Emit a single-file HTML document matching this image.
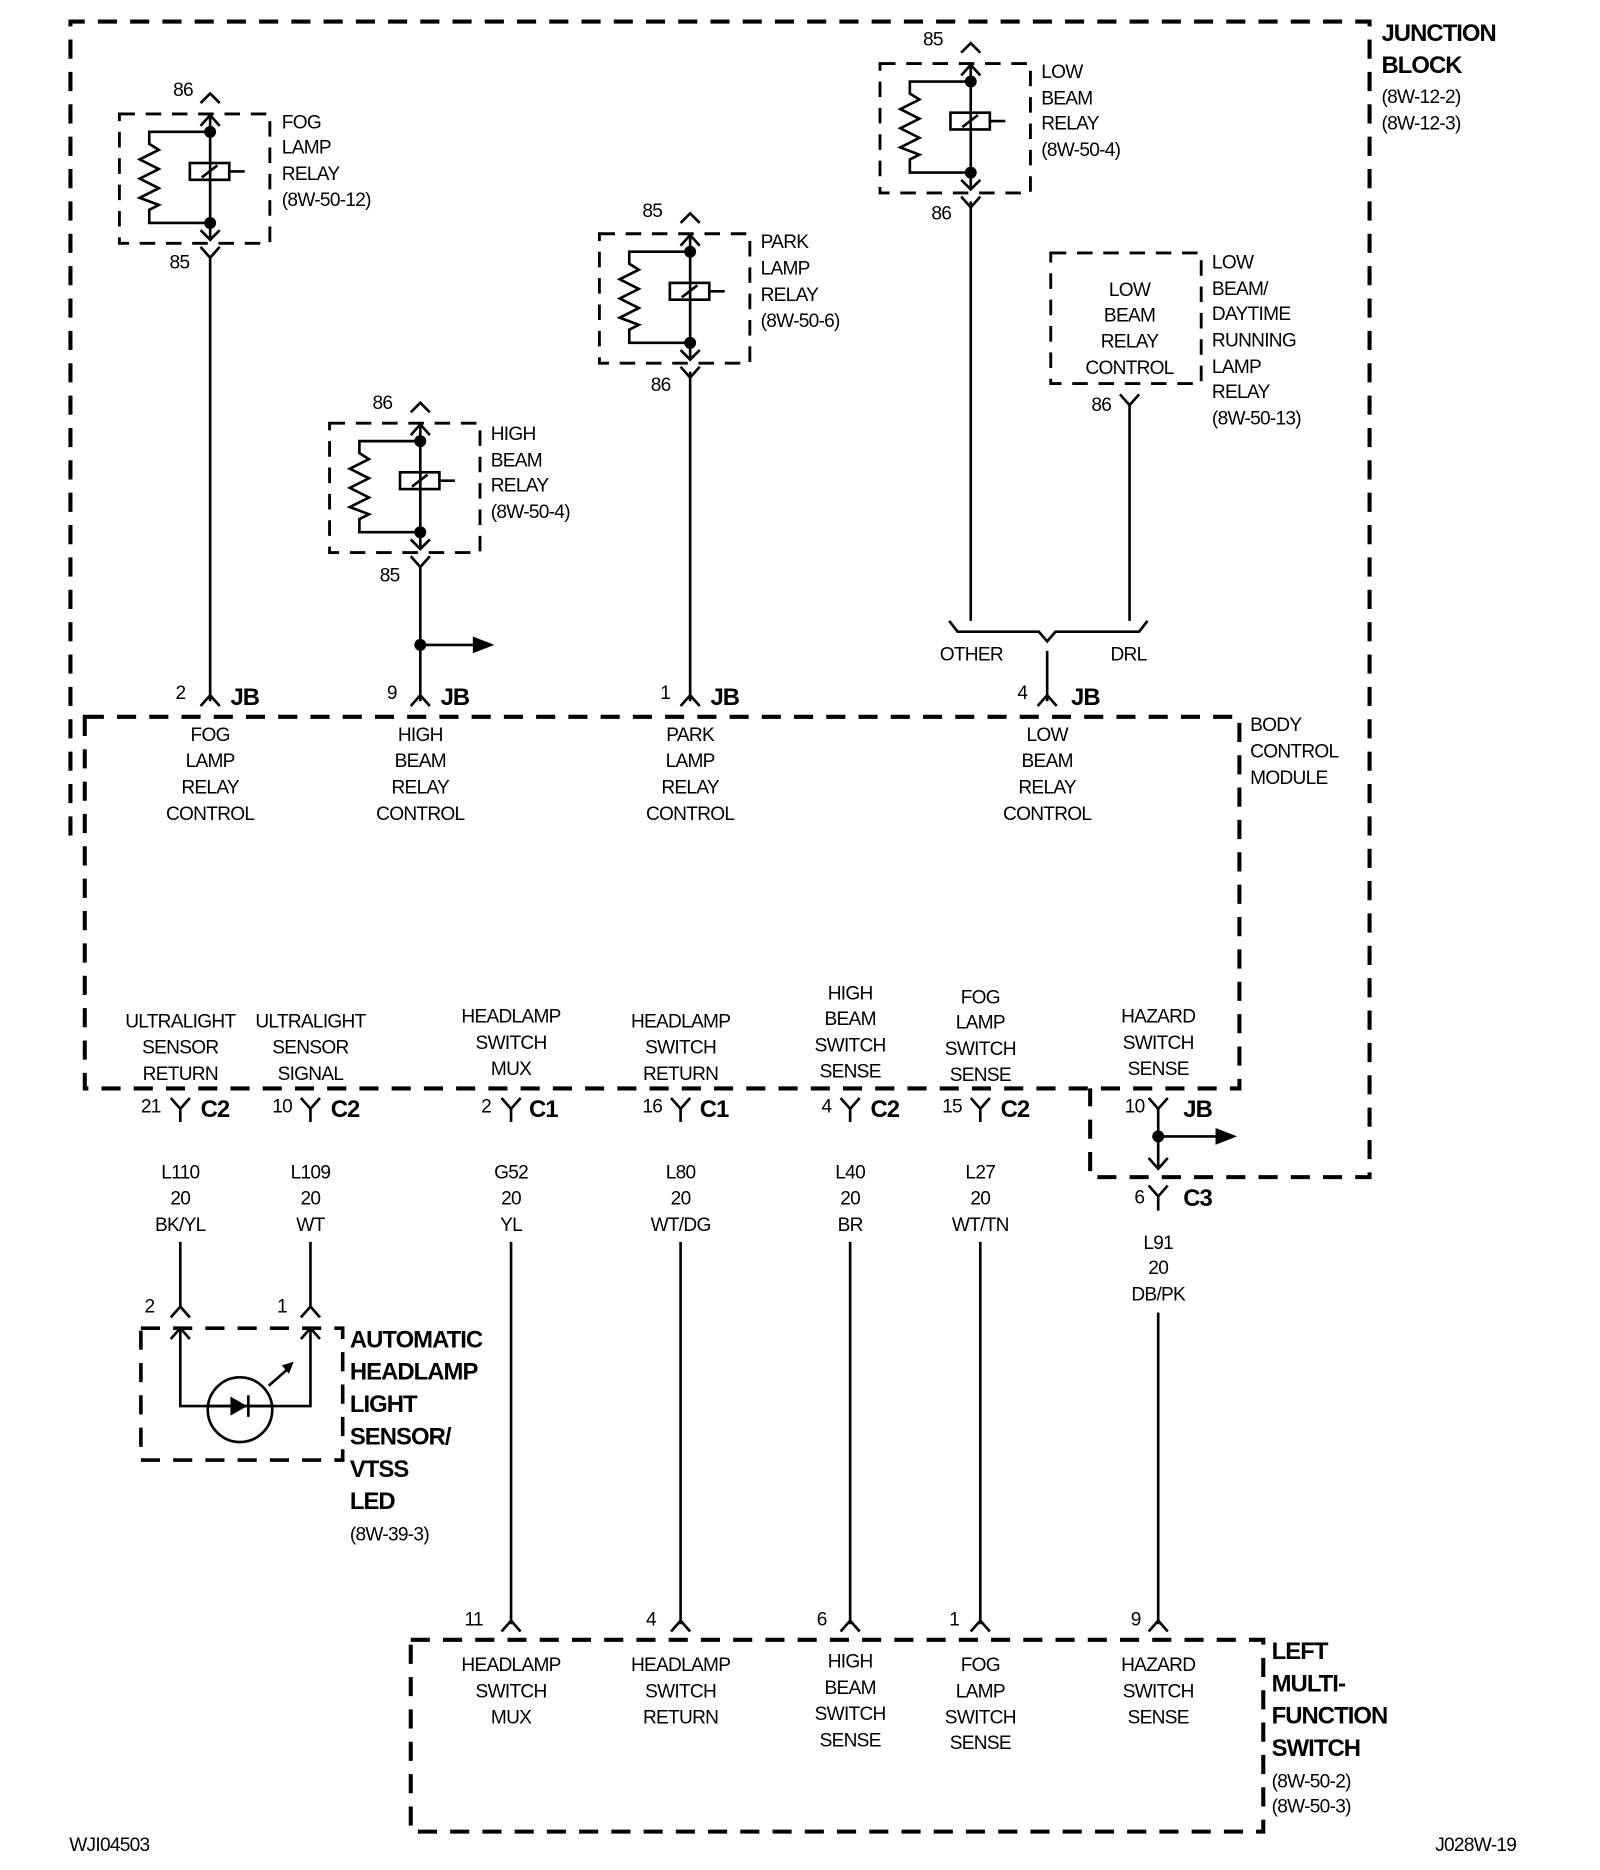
<!DOCTYPE html>
<html><head><meta charset="utf-8"><style>
html,body{margin:0;padding:0;background:#fff;}
svg{display:block;}
text{font-family:"Liberation Sans",Arial,sans-serif;font-size:16px;fill:#000;letter-spacing:-0.6px;}
.b{font-weight:bold;font-size:20px;letter-spacing:-0.8px;}
.m{text-anchor:middle;}
.d{fill:none;stroke:#000;stroke-width:3.4;stroke-dasharray:16 11;}
.w{fill:none;stroke:#000;stroke-width:2.2;}
</style></head><body>
<svg width="1600" height="1870" viewBox="0 0 1340 1560" preserveAspectRatio="none" xmlns="http://www.w3.org/2000/svg">
<defs>
<g id="relay">
<rect x="-76" y="0" width="126" height="108" class="d" style="stroke-width:2.4;stroke-dasharray:13 9"/>
<path class="w" d="M-8,-9 L0,-17 L8,-9 M-8,10 L0,1 L8,10 M0,1 V105 M-8,97 L0,105 L8,97 M-8,111 L0,120 L8,111"/>
<circle cx="0" cy="15" r="5"/><circle cx="0" cy="91" r="5"/>
<rect x="-17" y="41" width="33" height="14" class="w"/>
<path class="w" d="M-7,53 L6,43 M16,48 H29 M0,15 H-51 V25 L-43,30 L-59,38 L-43,46 L-59,54 L-43,62 L-59,70 L-43,76 L-51,80 V91 H0"/>
</g>
<path id="fork" class="w" d="M-8,-9 L0,0 L8,-9"/>
<path id="chev" class="w" d="M-8,9 L0,0 L8,9"/>
</defs>

<!-- Junction block border -->
<path class="d" d="M59,697 V18 H1147 V982 H913 V908"/>
<!-- BCM -->
<path class="d" d="M71,598 H1038 V908 H71 Z"/>
<!-- LMFS -->
<path class="d" d="M344,1368 H1058 V1528 H344 Z"/>

<!-- relays -->
<use href="#relay" x="176" y="95"/>
<use href="#relay" x="352" y="353"/>
<use href="#relay" x="578" y="195"/>
<use href="#relay" x="813" y="53"/>

<!-- DRL relay box -->
<rect x="880" y="211" width="126" height="109" class="d" style="stroke-width:2.4;stroke-dasharray:13 9"/>
<text class="m" x="946" y="247">LOW</text><text class="m" x="946" y="268">BEAM</text><text class="m" x="946" y="290">RELAY</text><text class="m" x="946" y="312">CONTROL</text>
<use href="#fork" x="946" y="338"/>
<text x="914" y="343">86</text>

<!-- upper wires -->
<path class="w" d="M176,215 V585 M352,473 V585 M578,310 V585 M813,168 V518 M946,338 V518"/>
<path class="w" d="M795,518 L802,527 H870 L877,535 L884,527 H954 L961,518 M877,543 V585"/>
<circle cx="352" cy="538" r="5"/>
<path class="w" d="M352,538 H396"/><path d="M396,531 L414,538 L396,545 Z"/>

<!-- JB connectors top of BCM -->
<use href="#chev" x="176" y="580"/><use href="#chev" x="352" y="580"/><use href="#chev" x="578" y="580"/><use href="#chev" x="877" y="580"/>
<text x="147" y="583">2</text><text class="b" x="193" y="588">JB</text>
<text x="324" y="583">9</text><text class="b" x="369" y="588">JB</text>
<text x="553" y="583">1</text><text class="b" x="595" y="588">JB</text>
<text x="852" y="583">4</text><text class="b" x="897" y="588">JB</text>
<text x="787" y="551">OTHER</text><text x="930" y="551">DRL</text>

<!-- relay labels -->
<text x="145" y="80">86</text><text x="142" y="224">85</text>
<text x="236" y="107">FOG</text><text x="236" y="128">LAMP</text><text x="236" y="150">RELAY</text><text x="236" y="172">(8W-50-12)</text>
<text x="312" y="341">86</text><text x="318" y="485">85</text>
<text x="411" y="367">HIGH</text><text x="411" y="389">BEAM</text><text x="411" y="410">RELAY</text><text x="411" y="432">(8W-50-4)</text>
<text x="538" y="181">85</text><text x="545" y="326">86</text>
<text x="637" y="207">PARK</text><text x="637" y="229">LAMP</text><text x="637" y="251">RELAY</text><text x="637" y="273">(8W-50-6)</text>
<text x="773" y="38">85</text><text x="780" y="183">86</text>
<text x="872" y="65">LOW</text><text x="872" y="87">BEAM</text><text x="872" y="108">RELAY</text><text x="872" y="130">(8W-50-4)</text>
<text x="1015" y="224">LOW</text><text x="1015" y="246">BEAM/</text><text x="1015" y="267">DAYTIME</text><text x="1015" y="289">RUNNING</text><text x="1015" y="311">LAMP</text><text x="1015" y="332">RELAY</text><text x="1015" y="354">(8W-50-13)</text>
<text class="b" x="1157" y="34">JUNCTION</text><text class="b" x="1157" y="61">BLOCK</text>
<text x="1157" y="86">(8W-12-2)</text><text x="1157" y="108">(8W-12-3)</text>
<text x="1047" y="610">BODY</text><text x="1047" y="632">CONTROL</text><text x="1047" y="654">MODULE</text>

<!-- BCM top labels -->
<text class="m" x="176" y="618">FOG</text><text class="m" x="176" y="640">LAMP</text><text class="m" x="176" y="662">RELAY</text><text class="m" x="176" y="684">CONTROL</text>
<text class="m" x="352" y="618">HIGH</text><text class="m" x="352" y="640">BEAM</text><text class="m" x="352" y="662">RELAY</text><text class="m" x="352" y="684">CONTROL</text>
<text class="m" x="578" y="618">PARK</text><text class="m" x="578" y="640">LAMP</text><text class="m" x="578" y="662">RELAY</text><text class="m" x="578" y="684">CONTROL</text>
<text class="m" x="877" y="618">LOW</text><text class="m" x="877" y="640">BEAM</text><text class="m" x="877" y="662">RELAY</text><text class="m" x="877" y="684">CONTROL</text>

<!-- BCM bottom labels -->
<text class="m" x="151" y="857">ULTRALIGHT</text><text class="m" x="151" y="879">SENSOR</text><text class="m" x="151" y="901">RETURN</text>
<text class="m" x="260" y="857">ULTRALIGHT</text><text class="m" x="260" y="879">SENSOR</text><text class="m" x="260" y="901">SIGNAL</text>
<text class="m" x="428" y="853">HEADLAMP</text><text class="m" x="428" y="875">SWITCH</text><text class="m" x="428" y="897">MUX</text>
<text class="m" x="570" y="857">HEADLAMP</text><text class="m" x="570" y="879">SWITCH</text><text class="m" x="570" y="901">RETURN</text>
<text class="m" x="712" y="834">HIGH</text><text class="m" x="712" y="855">BEAM</text><text class="m" x="712" y="877">SWITCH</text><text class="m" x="712" y="899">SENSE</text>
<text class="m" x="821" y="837">FOG</text><text class="m" x="821" y="858">LAMP</text><text class="m" x="821" y="880">SWITCH</text><text class="m" x="821" y="902">SENSE</text>
<text class="m" x="970" y="853">HAZARD</text><text class="m" x="970" y="875">SWITCH</text><text class="m" x="970" y="897">SENSE</text>

<!-- bottom BCM connectors -->
<use href="#fork" x="151" y="925"/><use href="#fork" x="260" y="925"/><use href="#fork" x="428" y="925"/><use href="#fork" x="570" y="925"/><use href="#fork" x="712" y="925"/><use href="#fork" x="821" y="925"/><use href="#fork" x="970" y="925"/>
<path class="w" d="M151,925 V936 M260,925 V936 M428,925 V936 M570,925 V936 M712,925 V936 M821,925 V936 M970,925 V975"/>
<text x="118" y="928">21</text><text class="b" x="168" y="932">C2</text>
<text x="228" y="928">10</text><text class="b" x="277" y="932">C2</text>
<text x="403" y="928">2</text><text class="b" x="443" y="932">C1</text>
<text x="538" y="928">16</text><text class="b" x="586" y="932">C1</text>
<text x="688" y="928">4</text><text class="b" x="729" y="932">C2</text>
<text x="789" y="928">15</text><text class="b" x="838" y="932">C2</text>
<text x="942" y="928">10</text><text class="b" x="991" y="932">JB</text>
<circle cx="970" cy="948" r="5"/><path class="w" d="M970,948 H1018"/><path d="M1018,941 L1036,948 L1018,955 Z"/>
<path class="w" d="M962,966 L970,975 L978,966"/>
<use href="#fork" x="970" y="998"/><path class="w" d="M970,998 V1010"/>
<text x="950" y="1004">6</text><text class="b" x="991" y="1006">C3</text>

<!-- wire labels -->
<text class="m" x="151" y="983">L110</text><text class="m" x="151" y="1005">20</text><text class="m" x="151" y="1027">BK/YL</text>
<text class="m" x="260" y="983">L109</text><text class="m" x="260" y="1005">20</text><text class="m" x="260" y="1027">WT</text>
<text class="m" x="428" y="983">G52</text><text class="m" x="428" y="1005">20</text><text class="m" x="428" y="1027">YL</text>
<text class="m" x="570" y="983">L80</text><text class="m" x="570" y="1005">20</text><text class="m" x="570" y="1027">WT/DG</text>
<text class="m" x="712" y="983">L40</text><text class="m" x="712" y="1005">20</text><text class="m" x="712" y="1027">BR</text>
<text class="m" x="821" y="983">L27</text><text class="m" x="821" y="1005">20</text><text class="m" x="821" y="1027">WT/TN</text>
<text class="m" x="970" y="1042">L91</text><text class="m" x="970" y="1063">20</text><text class="m" x="970" y="1085">DB/PK</text>

<!-- lower wires -->
<path class="w" d="M151,1036 V1090 M260,1036 V1090 M428,1036 V1355 M570,1036 V1355 M712,1036 V1355 M821,1036 V1355 M970,1095 V1355"/>

<!-- sensor -->
<use href="#chev" x="151" y="1090"/><use href="#chev" x="260" y="1090"/>
<rect x="118" y="1108" width="169" height="110" class="d" style="stroke-width:3"/>
<path class="w" d="M143,1117 L151,1108 L159,1117 M252,1117 L260,1108 L268,1117 M151,1108 V1173 H260 V1108"/>
<circle cx="201" cy="1176" r="27" class="w" fill="#fff"/>
<path class="w" d="M175,1173 H228"/>
<path d="M193,1165 L207,1173 L193,1181 Z"/><path class="w" d="M208,1164 V1182"/>
<path class="w" d="M225,1156 L240,1143"/><path d="M236,1139 L246,1136 L242,1146 Z"/>
<text x="121" y="1095">2</text><text x="232" y="1095">1</text>
<text class="b" x="293" y="1124">AUTOMATIC</text><text class="b" x="293" y="1151">HEADLAMP</text><text class="b" x="293" y="1178">LIGHT</text><text class="b" x="293" y="1205">SENSOR/</text><text class="b" x="293" y="1232">VTSS</text><text class="b" x="293" y="1259">LED</text>
<text x="293" y="1285">(8W-39-3)</text>

<!-- LMFS connectors -->
<use href="#chev" x="428" y="1352"/><use href="#chev" x="570" y="1352"/><use href="#chev" x="712" y="1352"/><use href="#chev" x="821" y="1352"/><use href="#chev" x="970" y="1352"/>
<text x="389" y="1356">11</text><text x="541" y="1356">4</text><text x="684" y="1356">6</text><text x="795" y="1356">1</text><text x="947" y="1356">9</text>
<text class="m" x="428" y="1394">HEADLAMP</text><text class="m" x="428" y="1416">SWITCH</text><text class="m" x="428" y="1438">MUX</text>
<text class="m" x="570" y="1394">HEADLAMP</text><text class="m" x="570" y="1416">SWITCH</text><text class="m" x="570" y="1438">RETURN</text>
<text class="m" x="712" y="1391">HIGH</text><text class="m" x="712" y="1413">BEAM</text><text class="m" x="712" y="1435">SWITCH</text><text class="m" x="712" y="1457">SENSE</text>
<text class="m" x="821" y="1394">FOG</text><text class="m" x="821" y="1416">LAMP</text><text class="m" x="821" y="1438">SWITCH</text><text class="m" x="821" y="1459">SENSE</text>
<text class="m" x="970" y="1394">HAZARD</text><text class="m" x="970" y="1416">SWITCH</text><text class="m" x="970" y="1438">SENSE</text>
<text class="b" x="1065" y="1384">LEFT</text><text class="b" x="1065" y="1411">MULTI-</text><text class="b" x="1065" y="1438">FUNCTION</text><text class="b" x="1065" y="1465">SWITCH</text>
<text x="1065" y="1491">(8W-50-2)</text><text x="1065" y="1512">(8W-50-3)</text>

<text x="58" y="1544">WJI04503</text>
<text x="1202" y="1544">J028W-19</text>
</svg>
</body></html>
